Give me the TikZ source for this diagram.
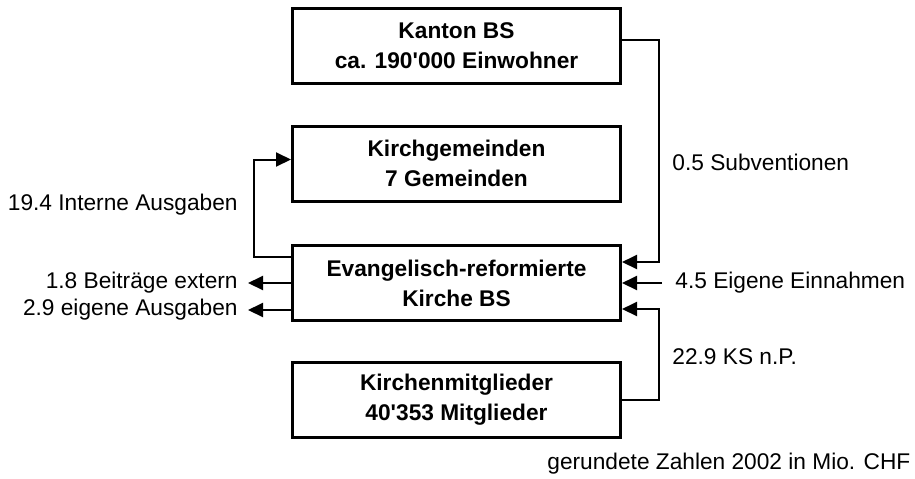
\documentclass[tikz,border=0pt]{standalone}
\usepackage{fontspec}
\setmainfont{Liberation Sans}
\usetikzlibrary{arrows.meta,positioning}

\begin{document}
\begin{tikzpicture}[x=0.5pt, y=-0.5pt,
        box/.style={rectangle, draw, line width=1.5pt, minimum width=164pt, minimum height=37.5pt, align=center, font=\fontsize{11.35}{15}\selectfont\bfseries},
        flow/.style={-{Triangle[length=7.5pt,width=7pt]}, line width=1pt},
        lbl/.style={inner sep=0pt, font=\fontsize{11.35}{14}\selectfont}
    ]
        \useasboundingbox (0,0) rectangle (915,478);

        % Boxes
        \node[box] (kanton) at (456.5,46) {Kanton BS\\ca. 190\textquotesingle 000 Einwohner};
        \node[box] (gemeinden) at (456.5,163.5) {Kirchgemeinden\\7 Gemeinden};
        \node[box] (kirche) at (456.5,283) {Evangelisch-reformierte\\Kirche BS};
        \node[box] (mitglieder) at (456.5,400) {Kirchenmitglieder\\40\textquotesingle 353 Mitglieder};

        % Labels
        \node[lbl, anchor=west] (subv) at (672,162) {0.5 Subventionen};
        \node[lbl, anchor=east] (intern) at (238,205) {19.4 Interne Ausgaben};
        \node[lbl, anchor=east] (beitr) at (238,283) {1.8 Beiträge extern};
        \node[lbl, anchor=east] (ausg) at (238,310) {2.9 eigene Ausgaben};
        \node[lbl, anchor=west] (einn) at (675,283) {4.5 Eigene Einnahmen};
        \node[lbl, anchor=west] (ks) at (672,357) {22.9 KS n.P.};
        \node[lbl, anchor=west] (note) at (547,464) {gerundete Zahlen 2002 in Mio. CHF};

        % Flows in
        \draw[flow] ([yshift=3pt]kanton.east) -- ++(18.5pt,0) |- ([yshift=10.5pt]kirche.east);
        \draw[flow] ([xshift=-6.5pt]einn.west) -- (kirche.east);
        \draw[flow] (mitglieder.east) -- ++(18.5pt,0) |- ([yshift=-13pt]kirche.east);

        % Flows out
        \draw[flow] ([yshift=13pt]kirche.west) -- ++(-18.5pt,0) |- ([yshift=2pt]gemeinden.west);
        \draw[flow] (kirche.west) -- ([xshift=5pt]beitr.east);
        \draw[flow] ([yshift=-13.5pt]kirche.west) -- ([xshift=5pt]ausg.east);

    \end{tikzpicture}
\end{document}
